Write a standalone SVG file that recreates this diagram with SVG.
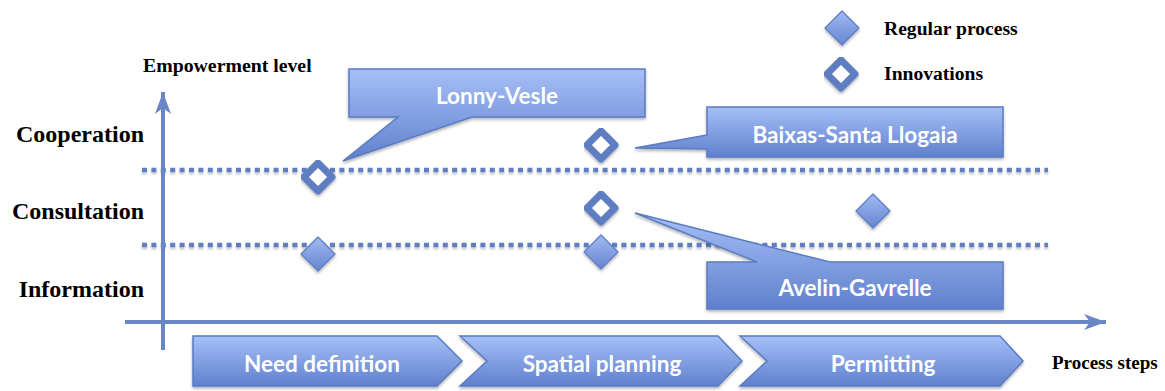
<svg xmlns="http://www.w3.org/2000/svg" width="1165" height="391" viewBox="0 0 1165 391">
<defs>
<linearGradient id="gBox" x1="0" y1="0" x2="0" y2="1">
<stop offset="0" stop-color="#a6bff6"/>
<stop offset="1" stop-color="#5f80cd"/>
</linearGradient>
<linearGradient id="gDia" x1="0" y1="0" x2="0" y2="1">
<stop offset="0" stop-color="#a3bbf2"/>
<stop offset="1" stop-color="#6584cf"/>
</linearGradient>
<filter id="sh" x="-10%" y="-10%" width="130%" height="140%">
<feDropShadow dx="0" dy="2" stdDeviation="1.5" flood-color="#000" flood-opacity="0.3"/>
</filter>
<filter id="shl" filterUnits="userSpaceOnUse" x="0" y="0" width="1165" height="391">
<feDropShadow dx="0" dy="2" stdDeviation="1.2" flood-color="#000" flood-opacity="0.25"/>
</filter>
<marker id="ah" markerWidth="24" markerHeight="16" refX="22" refY="8" orient="auto" markerUnits="userSpaceOnUse">
<path d="M0,0 L22,8 L0,16 L6,8 Z" fill="#6a86c6"/>
</marker>
<path id="hollow" d="M0,-14 L14,0 L0,14 L-14,0 Z"/>
<path id="filled" d="M0,-17 L17,0 L0,17 L-17,0 Z"/>
</defs>
<style>
.lbl{font-family:"Liberation Serif",serif;font-weight:bold;fill:#000}
.wt{font-family:Lato,"Open Sans",sans-serif;font-weight:bold;fill:#fff;text-anchor:middle;font-size:22.5px}
.box{fill:url(#gBox);stroke:#5a7bc3;stroke-width:1.5;filter:url(#sh)}
.axis{stroke:#6a86c6;stroke-width:4;fill:none}
.dot{stroke:#5f7fc2;stroke-width:4.5;stroke-dasharray:5 4.4;fill:none;filter:url(#shl)}
.hol{fill:#fff;stroke:#5f7ec2;stroke-width:7;stroke-linejoin:round;filter:url(#sh)}
.fil{fill:url(#gDia);stroke:#5d7dc4;stroke-width:1.2;stroke-linejoin:round;filter:url(#sh)}
</style>
<rect width="1165" height="391" fill="#fff"/>

<g id="connectors">
<line class="dot" x1="142" y1="170" x2="1048" y2="170"/>
<line class="dot" x1="142" y1="245" x2="1048" y2="245"/>
<line class="axis" x1="163" y1="350" x2="163" y2="92" marker-end="url(#ah)"/>
<line class="axis" x1="125" y1="322" x2="1106" y2="322" marker-end="url(#ah)"/>
</g>

<g id="axis-labels">
<text class="lbl" x="143" y="72" font-size="19.8">Empowerment level</text>
<text class="lbl" x="144" y="142" font-size="24" text-anchor="end">Cooperation</text>
<text class="lbl" x="144" y="219" font-size="24" text-anchor="end">Consultation</text>
<text class="lbl" x="144" y="297" font-size="24" text-anchor="end">Information</text>
<text class="lbl" x="1052" y="369" font-size="19">Process steps</text>
</g>

<g id="legend">
<use href="#filled" class="fil" x="842" y="28"/>
<text class="lbl" x="884" y="35" font-size="19.6">Regular process</text>
<use href="#hollow" class="hol" x="841" y="74"/>
<text class="lbl" x="884" y="80" font-size="19.6">Innovations</text>
</g>

<g id="diamonds">
<use href="#hollow" class="hol" x="318" y="177"/>
<use href="#filled" class="fil" x="318" y="254"/>
<use href="#hollow" class="hol" x="601" y="145"/>
<use href="#hollow" class="hol" x="601" y="208"/>
<use href="#filled" class="fil" x="601" y="252"/>
<use href="#filled" class="fil" x="873" y="211"/>
</g>

<g id="callout-lonny">
<path class="box" d="M349,69 H645 V117 H472 L343,161 L398,117 H349 Z"/>
<text class="wt" x="497" y="104">Lonny-Vesle</text>
</g>

<g id="callout-baixas">
<path class="box" d="M707,107 H1003 V157 H707 V149 L635,148 L707,135 Z"/>
<text class="wt" x="855" y="143">Baixas-Santa Llogaia</text>
</g>

<g id="callout-avelin">
<path class="box" d="M707,262 H757 L635,213 L830,262 H1003 V309 H707 Z"/>
<text class="wt" x="855" y="296">Avelin-Gavrelle</text>
</g>

<g id="step-need">
<path class="box" d="M193,336 H437 L462,361 L437,386 H193 Z"/>
<text class="wt" x="322" y="372">Need definition</text>
</g>
<g id="step-spatial">
<path class="box" d="M460,336 H718 L742,361 L718,386 H460 L487,361 Z"/>
<text class="wt" x="602" y="372">Spatial planning</text>
</g>
<g id="step-permitting">
<path class="box" d="M740,336 H1000 L1023,361 L1000,386 H740 L767,361 Z"/>
<text class="wt" x="883" y="372">Permitting</text>
</g>
</svg>
